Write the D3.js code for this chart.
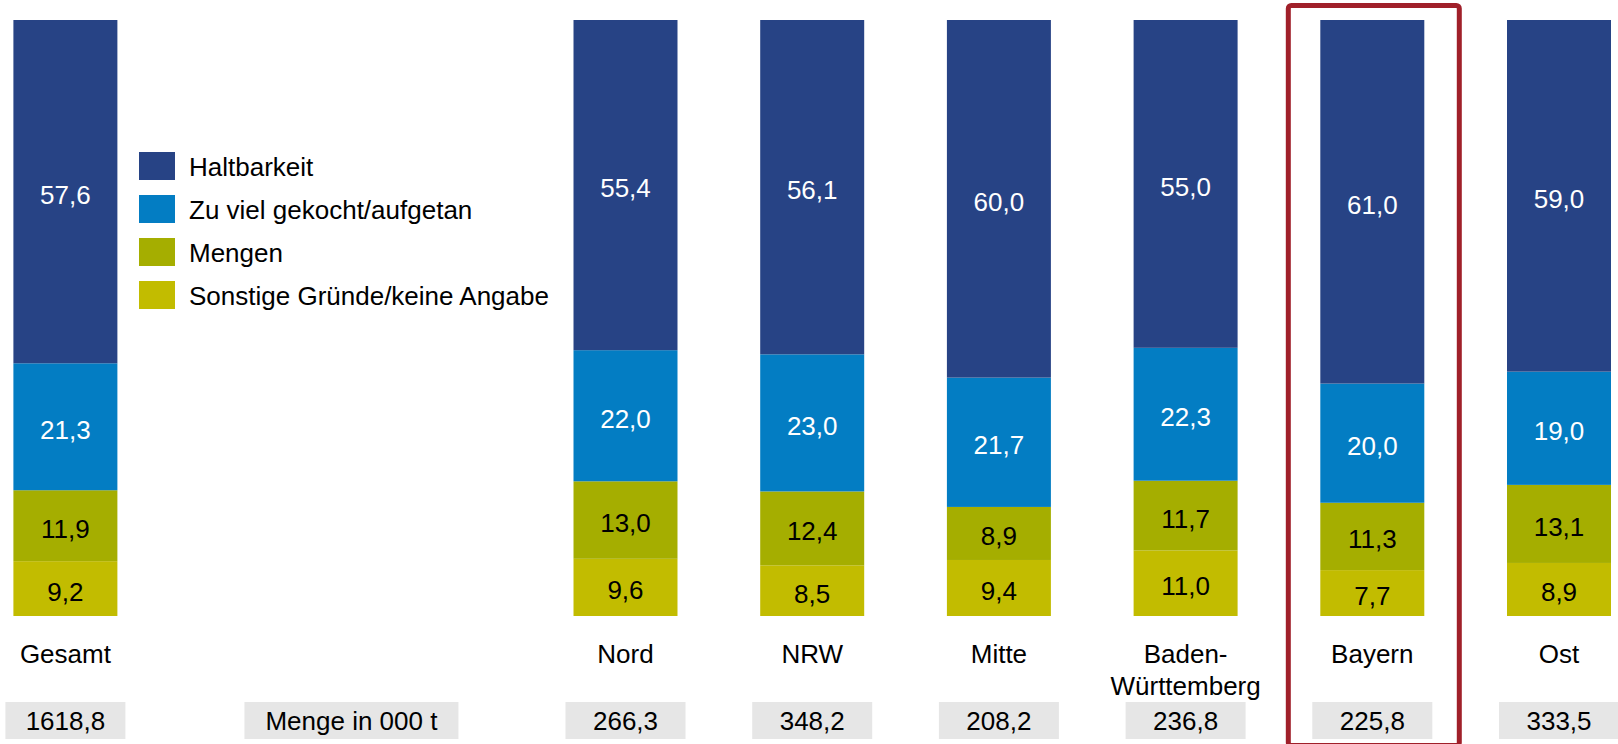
<!DOCTYPE html>
<html>
<head>
<meta charset="utf-8">
<script src="https://cdn.jsdelivr.net/npm/d3@7"></script>
<style>
  body { margin: 0; background: #fff; }
  text { font-family: "Liberation Sans", Arial, sans-serif; font-size: 26px; }
</style>
</head>
<body>
<div id="chart"></div>
<script>
// Data (shares in %, amounts in 000 t)
const categories = ["Gesamt", "Nord", "NRW", "Mitte", "Baden-\nWürttemberg", "Bayern", "Ost"];
const slots = [0, 3, 4, 5, 6, 7, 8];
const seriesNames = ["Haltbarkeit", "Zu viel gekocht/aufgetan", "Mengen", "Sonstige Gründe/keine Angabe"];
const haltbarkeit = [57.6, 55.4, 56.1, 60.0, 55.0, 61.0, 59.0];
const zuViel = [21.3, 22.0, 23.0, 21.7, 22.3, 20.0, 19.0];
const mengen = [11.9, 13.0, 12.4, 8.9, 11.7, 11.3, 13.1];
const sonstige = [9.2, 9.6, 8.5, 9.4, 11.0, 7.7, 8.9];
const mengeTonnen = [1618.8, 266.3, 348.2, 208.2, 236.8, 225.8, 333.5];
const mengeLabel = "Menge in 000 t";
const highlight = "Bayern";

const colors = ["#274385", "#037dc3", "#a5ae00", "#c2bc00"];
const labelColors = ["#fff", "#fff", "#000", "#000"];

const width = 1618, height = 744;

const table = categories.map((c, i) => ({
    cat: c, slot: slots[i], menge: mengeTonnen[i],
    s0: haltbarkeit[i], s1: zuViel[i], s2: mengen[i], s3: sonstige[i]
}));
const keys = ["s0", "s1", "s2", "s3"];

// bottom-up order: Sonstige at bottom, Haltbarkeit on top
const stack = d3.stack().keys(keys.slice().reverse());
const stacked = stack(table);

const locale = d3.formatLocale({decimal: ",", thousands: ".", grouping: [3], currency: ["", "€"]});
const fmt = locale.format(".1f");

const svg = d3.select("#chart")
    .append("svg")
    .attr("width", width)
    .attr("height", height);

const x = d3.scaleBand()
    .domain(d3.range(9))
    .range([13.4, 1611])
    .paddingInner(0.443)
    .paddingOuter(0);

const y = d3.scaleLinear()
    .domain([0, 100])
    .range([616, 20]);

const color = d3.scaleOrdinal().domain(keys).range(colors);
const lblColor = d3.scaleOrdinal().domain(keys).range(labelColors);

// Stacked bars
const layers = svg.selectAll(".layer")
    .data(stacked)
    .enter().append("g")
    .attr("class", "layer")
    .attr("fill", d => color(d.key));

layers.selectAll("rect")
    .data(d => d)
    .enter().append("rect")
    .attr("x", d => x(d.data.slot))
    .attr("y", d => y(d[1]))
    .attr("width", x.bandwidth())
    .attr("height", d => y(d[0]) - y(d[1]));

// Segment labels
layers.each(function(layer) {
    d3.select(this).selectAll("text")
        .data(layer)
        .enter().append("text")
        .attr("x", d => x(d.data.slot) + x.bandwidth() / 2)
        .attr("y", d => (y(d[0]) + y(d[1])) / 2 + 12)
        .attr("text-anchor", "middle")
        .attr("fill", lblColor(layer.key))
        .text(d => fmt(d[1] - d[0]));
});

// Category labels
svg.selectAll(".cat")
    .data(table)
    .enter().append("text")
    .attr("class", "cat")
    .attr("text-anchor", "middle")
    .attr("y", 663)
    .each(function(d) {
        const t = d3.select(this);
        d.cat.split("\n").forEach((line, i) => {
            t.append("tspan")
                .attr("x", x(d.slot) + x.bandwidth() / 2)
                .attr("dy", i === 0 ? 0 : 32)
                .text(line);
        });
    });

// Amount boxes
const boxW = 120, boxTop = 702, boxH = 37;
const boxes = svg.selectAll(".box")
    .data(table)
    .enter().append("g")
    .attr("class", "box")
    .attr("transform", d => `translate(${x(d.slot) + x.bandwidth() / 2},0)`);

boxes.append("rect")
    .attr("x", -boxW / 2)
    .attr("y", boxTop)
    .attr("width", boxW)
    .attr("height", boxH)
    .attr("fill", "#e6e6e6");

boxes.append("text")
    .attr("text-anchor", "middle")
    .attr("y", boxTop + boxH / 2 + 9.5)
    .text(d => fmt(d.menge));

// "Menge in 000 t" box between empty slots 1 and 2
const mCenter = (x(1) + x(2) + x.bandwidth()) / 2 + 6;
svg.append("rect")
    .attr("x", mCenter - 107)
    .attr("y", boxTop)
    .attr("width", 214)
    .attr("height", boxH)
    .attr("fill", "#e6e6e6");
svg.append("text")
    .attr("x", mCenter)
    .attr("y", boxTop + boxH / 2 + 9.5)
    .attr("text-anchor", "middle")
    .text(mengeLabel);

// Legend
const legend = svg.selectAll(".legend")
    .data(seriesNames)
    .enter().append("g")
    .attr("class", "legend")
    .attr("transform", (d, i) => `translate(139,${152 + i * 43})`);

legend.append("rect")
    .attr("width", 36)
    .attr("height", 28)
    .attr("fill", (d, i) => colors[i]);

legend.append("text")
    .attr("x", 50)
    .attr("y", 14 + 9.5)
    .text(d => d);

// Highlight frame around Bayern
const hi = table.find(d => d.cat === highlight);
svg.append("rect")
    .attr("x", x(hi.slot) - 32)
    .attr("y", 5.5)
    .attr("width", x.bandwidth() + 67)
    .attr("height", 740)
    .attr("rx", 3)
    .attr("fill", "none")
    .attr("stroke", "#a0202a")
    .attr("stroke-width", 5);
</script>
</body>
</html>
